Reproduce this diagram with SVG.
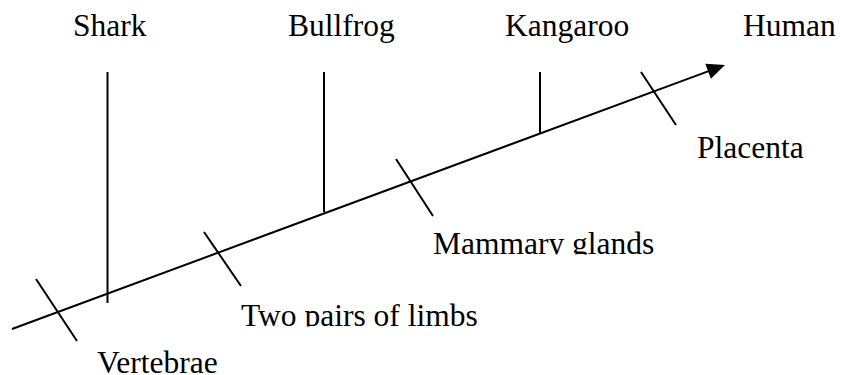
<svg xmlns="http://www.w3.org/2000/svg" width="841" height="375" viewBox="0 0 841 375">
<style>
.lbl{font-family:'Liberation Serif','DejaVu Serif',serif;font-size:31.5px;fill:#000}
.ln{stroke:#000;stroke-width:2;stroke-linecap:butt;fill:none}
</style>
<defs>
<clipPath id="clipMammary"><rect x="420" y="220" width="260" height="34.5"/></clipPath>
<clipPath id="clipLimbs"><rect x="230" y="292" width="270" height="34.5"/></clipPath>
</defs>
<rect width="841" height="375" fill="#fff"/>
<g id="connectors">
<line class="ln" x1="12" y1="329" x2="710" y2="70.6"/>
<polygon points="725,65 710.9,78.7 705.3,63.7" fill="#000"/>
</g>
<g id="shark">
<text class="lbl" font-family="Liberation Serif, serif" x="73" y="36">Shark</text>
<line class="ln" x1="107.5" y1="72" x2="107.5" y2="303"/>
</g>
<g id="bullfrog">
<text class="lbl" font-family="Liberation Serif, serif" x="288" y="36">Bullfrog</text>
<line class="ln" x1="324" y1="72" x2="324" y2="212"/>
</g>
<g id="kangaroo">
<text class="lbl" font-family="Liberation Serif, serif" x="505" y="36">Kangaroo</text>
<line class="ln" x1="540" y1="72" x2="540" y2="134"/>
</g>
<g id="human">
<text class="lbl" font-family="Liberation Serif, serif" x="743" y="36">Human</text>
</g>
<g id="vertebrae">
<line class="ln" x1="36" y1="279" x2="77" y2="341"/>
<text class="lbl" font-family="Liberation Serif, serif" x="97" y="373">Vertebrae</text>
</g>
<g id="limbs">
<line class="ln" x1="204" y1="232" x2="241" y2="286"/>
<text class="lbl" font-family="Liberation Serif, serif" x="241" y="326" clip-path="url(#clipLimbs)">Two pairs of limbs</text>
</g>
<g id="mammary">
<line class="ln" x1="396" y1="159" x2="433" y2="216"/>
<text class="lbl" font-family="Liberation Serif, serif" x="433" y="254" clip-path="url(#clipMammary)">Mammary glands</text>
</g>
<g id="placenta">
<line class="ln" x1="641" y1="72" x2="676" y2="125"/>
<text class="lbl" font-family="Liberation Serif, serif" x="697" y="158">Placenta</text>
</g>
</svg>
